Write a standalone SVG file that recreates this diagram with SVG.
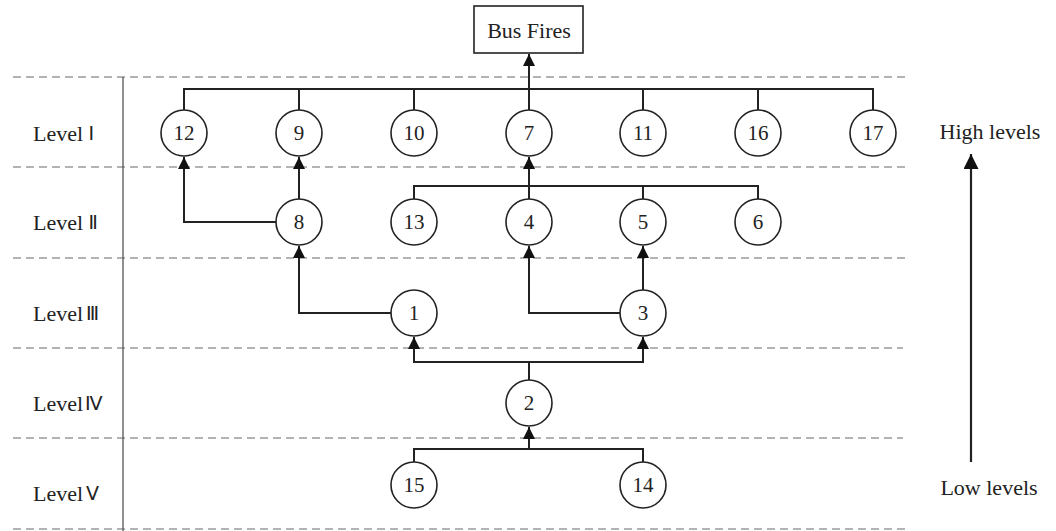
<svg xmlns="http://www.w3.org/2000/svg" width="1056" height="531" viewBox="0 0 1056 531">
<style>
.dash{stroke:#9a9a9a;stroke-width:1.6;stroke-dasharray:8 5;fill:none}
.sep{stroke:#555;stroke-width:1.3;fill:none}
.c{fill:#fff;stroke:#222;stroke-width:1.6}
.w{stroke:#222;stroke-width:2;fill:none}
.wa{stroke:#222;stroke-width:2;fill:none;marker-end:url(#ah)}
.t{font-family:"Liberation Serif","DejaVu Serif",serif;font-size:21px;fill:#222;text-anchor:middle;dominant-baseline:central}
.big{font-size:22px}
.lv{font-family:"Liberation Serif","DejaVu Serif",serif;font-size:22px;fill:#222;dominant-baseline:central}
.rn{font-family:"DejaVu Sans","Liberation Sans",sans-serif;font-size:19px}
</style>
<defs>
<marker id="ah" viewBox="0 0 12 12" refX="12" refY="6" markerWidth="12" markerHeight="12" markerUnits="userSpaceOnUse" orient="auto">
<path d="M0,0 L12,6 L0,12 z" fill="#111"/>
</marker>
<marker id="ahb" viewBox="0 0 16 16" refX="16" refY="8" markerWidth="16" markerHeight="15" markerUnits="userSpaceOnUse" orient="auto">
<path d="M0,0 L16,8 L0,16 z" fill="#111"/>
</marker>
</defs>
<g id="grid">
<line class="dash" x1="13" y1="77" x2="908" y2="77"/>
<line class="dash" x1="13" y1="167" x2="908" y2="167"/>
<line class="dash" x1="13" y1="258" x2="905" y2="258"/>
<line class="dash" x1="13" y1="348" x2="903" y2="348"/>
<line class="dash" x1="13" y1="438" x2="903" y2="438"/>
<line class="dash" x1="13" y1="529" x2="906" y2="529"/>
<line class="sep" x1="123" y1="77" x2="123" y2="531"/>
</g>
<g id="level-labels">
<text class="lv" x="33" y="133">Level <tspan class="rn">Ⅰ</tspan></text>
<text class="lv" x="33" y="222">Level <tspan class="rn">Ⅱ</tspan></text>
<text class="lv" x="33" y="313">Level<tspan class="rn" dx="3">Ⅲ</tspan></text>
<text class="lv" x="33" y="403">Level<tspan class="rn" dx="2">Ⅳ</tspan></text>
<text class="lv" x="33" y="493">Level<tspan class="rn" dx="3">Ⅴ</tspan></text>
</g>
<g id="connectors">
<polyline class="w" points="184,110 184,89 873,89 873,110"/>
<line class="w" x1="299" y1="89" x2="299" y2="110"/>
<line class="w" x1="414" y1="89" x2="414" y2="110"/>
<line class="w" x1="643" y1="89" x2="643" y2="110"/>
<line class="w" x1="758" y1="89" x2="758" y2="110"/>
<line class="w" x1="529" y1="110" x2="529" y2="89"/>
<line class="wa" x1="529" y1="89" x2="529" y2="54"/>
<line class="wa" x1="299" y1="199" x2="299" y2="157"/>
<polyline class="wa" points="276,222 184,222 184,157"/>
<polyline class="w" points="414,199 414,186 758,186 758,199"/>
<line class="w" x1="643" y1="186" x2="643" y2="199"/>
<line class="wa" x1="529" y1="199" x2="529" y2="157"/>
<polyline class="wa" points="391,313 299,313 299,246"/>
<polyline class="wa" points="620,313 529,313 529,246"/>
<line class="wa" x1="643" y1="290" x2="643" y2="246"/>
<line class="w" x1="529" y1="380" x2="529" y2="362"/>
<polyline class="wa" points="529,362 414,362 414,337"/>
<polyline class="wa" points="529,362 643,362 643,337"/>
<polyline class="w" points="414,462 414,449 643,449 643,462"/>
<line class="wa" x1="529" y1="449" x2="529" y2="427"/>
<line x1="971" y1="462" x2="971" y2="154" stroke="#222" stroke-width="2.2" marker-end="url(#ahb)"/>
</g>
<g id="bus-fires">
<rect x="474" y="6" width="109" height="47" fill="#fff" stroke="#222" stroke-width="1.6"/>
<text class="t big" x="529" y="30">Bus Fires</text>
</g>
<g id="n12"><circle class="c" cx="184" cy="133" r="23"/><text class="t" x="184" y="133">12</text></g>
<g id="n9"><circle class="c" cx="299" cy="133" r="23"/><text class="t" x="299" y="133">9</text></g>
<g id="n10"><circle class="c" cx="414" cy="133" r="23"/><text class="t" x="414" y="133">10</text></g>
<g id="n7"><circle class="c" cx="529" cy="133" r="23"/><text class="t" x="529" y="133">7</text></g>
<g id="n11"><circle class="c" cx="643" cy="133" r="23"/><text class="t" x="643" y="133">11</text></g>
<g id="n16"><circle class="c" cx="758" cy="133" r="23"/><text class="t" x="758" y="133">16</text></g>
<g id="n17"><circle class="c" cx="873" cy="133" r="23"/><text class="t" x="873" y="133">17</text></g>
<g id="n8"><circle class="c" cx="299" cy="222" r="23"/><text class="t" x="299" y="222">8</text></g>
<g id="n13"><circle class="c" cx="414" cy="222" r="23"/><text class="t" x="414" y="222">13</text></g>
<g id="n4"><circle class="c" cx="529" cy="222" r="23"/><text class="t" x="529" y="222">4</text></g>
<g id="n5"><circle class="c" cx="643" cy="222" r="23"/><text class="t" x="643" y="222">5</text></g>
<g id="n6"><circle class="c" cx="758" cy="222" r="23"/><text class="t" x="758" y="222">6</text></g>
<g id="n1"><circle class="c" cx="414" cy="313" r="23"/><text class="t" x="414" y="313">1</text></g>
<g id="n3"><circle class="c" cx="643" cy="313" r="23"/><text class="t" x="643" y="313">3</text></g>
<g id="n2"><circle class="c" cx="529" cy="403" r="23"/><text class="t" x="529" y="403">2</text></g>
<g id="n15"><circle class="c" cx="414" cy="485" r="23"/><text class="t" x="414" y="485">15</text></g>
<g id="n14"><circle class="c" cx="643" cy="485" r="23"/><text class="t" x="643" y="485">14</text></g>
<g id="axis-labels">
<text class="t big" x="990" y="131">High levels</text>
<text class="t big" x="989" y="487">Low levels</text>
</g>
</svg>
